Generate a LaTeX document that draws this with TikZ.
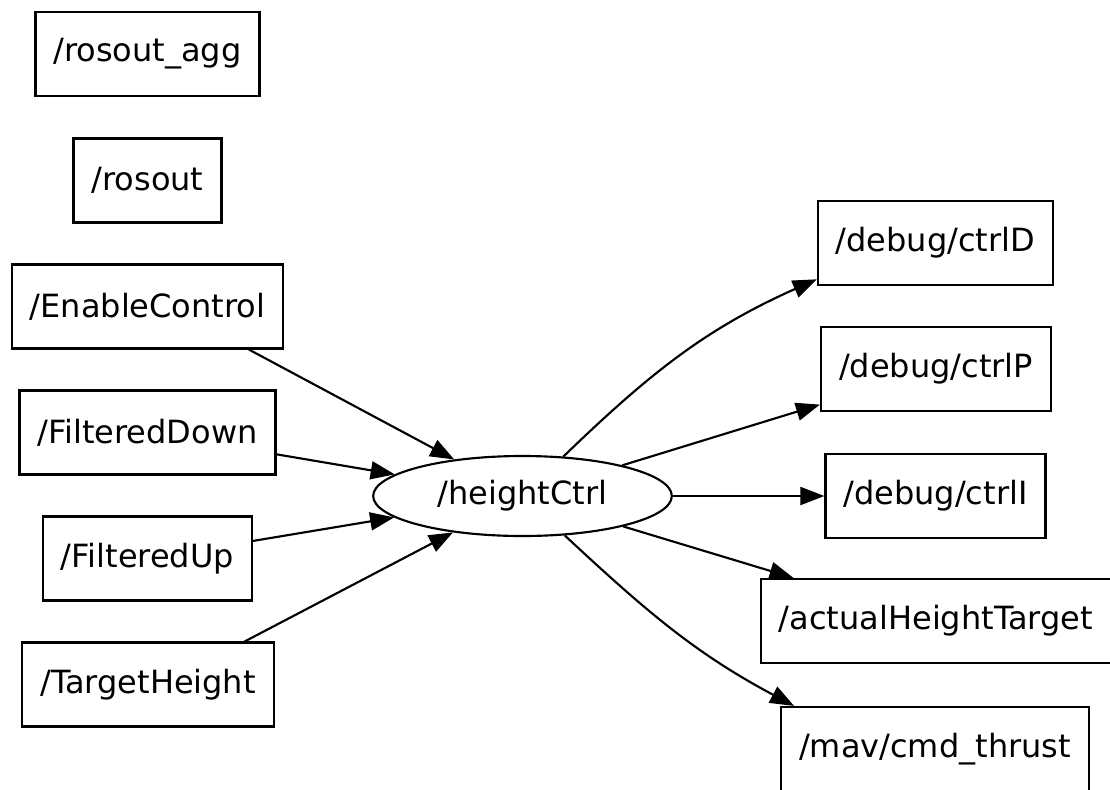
\documentclass[tikz,border=0pt]{standalone}
\usepackage{fontspec}
\setmainfont{DejaVu Sans}
\usepackage{tikz}
\usetikzlibrary{shapes,arrows.meta,positioning}
\tikzstyle{topic} = [draw,line width=1.6pt,rectangle,inner xsep=13.5pt,inner ysep=0,minimum height=63pt,font=\fontsize{24}{28}\selectfont]
\tikzstyle{rosnode} = [draw,line width=1.6pt,ellipse,inner sep=0,minimum width=224pt,minimum height=60pt,font=\fontsize{24}{28}\selectfont]
\tikzstyle{link} = [-{Triangle[length=18pt,width=13.5pt]},line width=1.6pt]

\begin{document}
\begin{tikzpicture}[x=0.75pt,y=0.75pt]
      \useasboundingbox (0,0) rectangle (1110,-789);
      \clip (0,0) rectangle (1110,-789);
      % topics on the left
      \node[topic] (agg) at (147.5,-54) {/rosout\_agg};
      \node[topic] (rosout) at (147.5,-180.5) {/rosout};
      \node[topic] (enable) at (147.5,-306.5) {/EnableControl};
      \node[topic] (fdown) at (147.5,-432.5) {/FilteredDown};
      \node[topic] (fup) at (147.5,-558.5) {/FilteredUp};
      \node[topic] (target) at (148,-684.5) {/TargetHeight};
      % the node
      \node[rosnode] (ctrl) at (522.5,-496) {/heightCtrl};
      % topics on the right
      \node[topic] (dbgd) at (935.5,-243) {/debug/ctrlD};
      \node[topic] (dbgp) at (936,-369) {/debug/ctrlP};
      \node[topic] (dbgi) at (935.5,-496) {/debug/ctrlI};
      \node[topic] (actual) at (936,-621) {/actualHeightTarget};
      \node[topic] (thrust) at (935,-749) {/mav/cmd\_thrust};
      % subscriptions
      \draw[link] (enable.-23) -- (ctrl);
      \draw[link] (fdown) -- (ctrl);
      \draw[link] (fup) -- (ctrl);
      \draw[link] (target.24) -- (ctrl);
      % publications
      \draw[link] (ctrl.44) to[out=44,in=204] (dbgd.197);
      \draw[link] (ctrl) -- (dbgp);
      \draw[link] (ctrl) -- (dbgi);
      \draw[link] (ctrl) -- (actual);
      \draw[link] (ctrl.-43) to[out=-43,in=152] (thrust.163);
    \end{tikzpicture}
\end{document}
